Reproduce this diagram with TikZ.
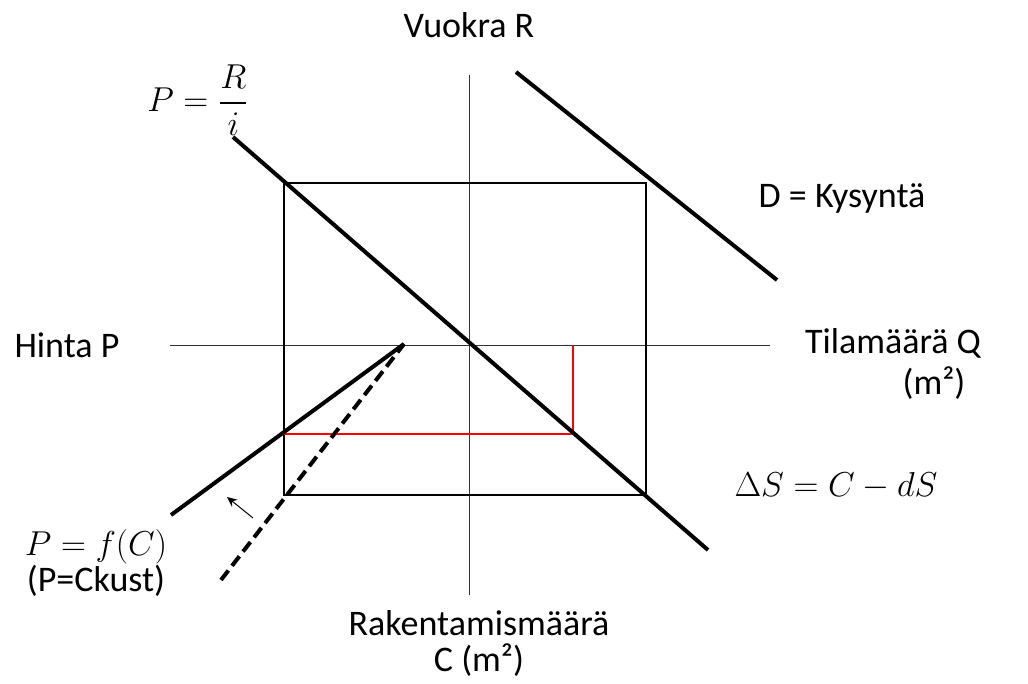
\documentclass[tikz,border=0pt]{standalone}
\usepackage{fontspec}
\setmainfont{Carlito}
\usepackage{amsmath}
\usetikzlibrary{arrows.meta, positioning}

\begin{document}
\begin{tikzpicture}[
    x=0.5pt, y=-0.5pt,
    axis/.style={draw=black!80, line width=0.5pt},
    frame/.style={draw=black, line width=0.8pt},
    curve/.style={draw=black, line width=2pt},
    shifted/.style={draw=black, line width=2pt, dash pattern=on 6pt off 3pt},
    redline/.style={draw=red, line width=0.6pt},
    lbl/.style={font=\fontsize{18}{22}\selectfont, inner sep=0pt},
    eq/.style={font=\fontsize{17.5}{20}\selectfont, inner sep=0pt},
]
\useasboundingbox (0,0) rectangle (1028,684);

% Axes
\coordinate (ytop) at (469,75);
\coordinate (ybot) at (469,595);
\coordinate (xleft) at (170,345);
\coordinate (xright) at (770,345);
\draw[axis] (ytop) -- (ybot);
\draw[axis] (xleft) -- (xright);

% Square
\coordinate (sqa) at (284,183);
\coordinate (sqb) at (646,495);
\draw[frame] (sqa) rectangle (sqb);

% Red lines
\coordinate (ra) at (284,434);
\coordinate (rb) at (573,434);
\coordinate (rc) at (573,345);
\draw[redline] (ra) -- (rb) -- (rc);

% Thick curves
\coordinate (pri1) at (233,137);
\coordinate (pri2) at (708,550);
\draw[curve] (pri1) -- (pri2);
\coordinate (dem1) at (516,72);
\coordinate (dem2) at (777,280);
\draw[curve] (dem1) -- (dem2);
\coordinate (top) at (404,344);
\coordinate (fc) at (171,515);
\draw[curve] (fc) -- (top);
\coordinate (dsh) at (221,580);
\draw[shifted] (dsh) -- (top);

% Shift arrow
\coordinate (sa) at (253,518);
\coordinate (sb) at (227,497);
\draw[-{Stealth[length=5pt, width=4.5pt]}, line width=0.5pt] (sa) -- (sb);

% Labels
\node[lbl] (rent) at (469,25) {Vuokra R};
\node[lbl] (price) at (67,345) {Hinta P};
\node[lbl] (space) at (893,343) {Tilamäärä Q};
\node[lbl] (spaceu) at (934,383) {(m²)};
\node[lbl] (demand) at (842,198) {D = Kysyntä};
\node[lbl, align=center, font=\fontsize{18}{18}\selectfont] (build) at (479,643) {Rakentamismäärä\\C (m²)};
\node[eq] (pri) at (198,100) {$\displaystyle P=\frac{R}{i}$};
\node[eq] (stock) at (836,486) {$\Delta S=C-dS$};
\node[eq] (cost) at (96,547) {$P=f(C)$};
\node[lbl] (costn) at (96,581) {(P=Ckust)};

\end{tikzpicture}
\end{document}
